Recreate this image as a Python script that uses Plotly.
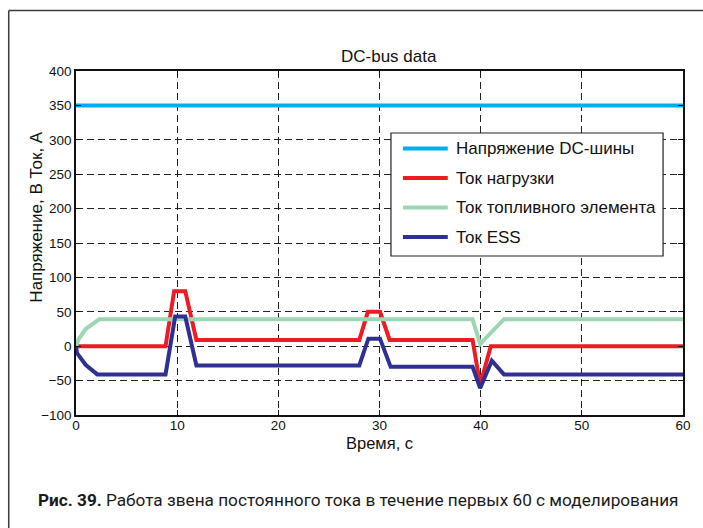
import plotly.graph_objects as go

# ---- data ----
series_names = ["Напряжение DC-шины", "Ток нагрузки", "Ток топливного элемента", "Ток ESS"]
series_colors = ["#00AEEF", "#ED1C24", "#9ED6B2", "#2E3192"]

t_bus = [0, 60]
v_bus = [350, 350]

t_load = [0, 8.85, 9.7, 10.8, 11.9, 28.0, 28.85, 30.05, 31.0, 39.2, 39.95, 41.0, 60]
i_load = [0, 0, 80, 80, 9, 9, 50, 50, 9, 9, -56, 0, 0]

t_fc = [0, 0.25, 0.95, 2.3, 39.2, 39.95, 41.1, 42.3, 60]
i_fc = [0, 10, 25, 39, 39, 3, 21, 39, 39]

t_ess = [0, 0.1, 0.95, 2.1, 8.85, 9.8, 10.8, 11.9, 28.0, 28.9, 30.05, 31.1, 39.2, 39.95, 41.1, 42.3, 60]
i_ess = [0, -10, -27, -41, -41, 43, 43, -28, -28, 11, 11, -30, -30, -61, -21, -41, -41]

x_ticks = [0, 10, 20, 30, 40, 50, 60]
y_ticks = [-100, -50, 0, 50, 100, 150, 200, 250, 300, 350, 400]
y_tick_text = ["\u2212100", "\u221250", "0", "50", "100", "150", "200", "250", "300", "350", "400"]

title = "DC-bus data"
x_title = "Время, с"
y_title = "Напряжение, В Ток, А"
caption_bold = "Рис. 39."
caption_rest = "Работа звена постоянного тока в течение первых 60 с моделирования"

# ---- layout geometry (pixels) ----
W, H = 703, 528
L, R, T, B = 76, 685, 71, 415
PW, PH = R - L, B - T


def px(x):
    return (x - L) / PW


def py(y):
    return (B - y) / PH


FONT = "Arial, Liberation Sans, sans-serif"

fig = go.Figure()
xs = [t_bus, t_load, t_fc, t_ess]
ys = [v_bus, i_load, i_fc, i_ess]
for name, color, x, y in zip(series_names, series_colors, xs, ys):
    fig.add_trace(go.Scatter(x=x, y=y, mode="lines", name=name,
                             line=dict(color=color, width=4), showlegend=False))

shapes = []
annotations = []

# page border (top and left edge)
shapes.append(dict(type="line", xref="paper", yref="paper", x0=px(8.5), x1=px(710),
                   y0=py(10.5), y1=py(10.5), line=dict(color="#3c3c3c", width=1.5)))
shapes.append(dict(type="line", xref="paper", yref="paper", x0=px(8.5), x1=px(8.5),
                   y0=py(10.5), y1=py(540), line=dict(color="#3c3c3c", width=1.5)))

# legend box
lx0, lx1, ly0, ly1 = 392, 665, 133, 256
shapes.append(dict(type="rect", xref="paper", yref="paper", x0=px(lx0), x1=px(lx1),
                   y0=py(ly0), y1=py(ly1), line=dict(color="#222222", width=1.2),
                   fillcolor="white", layer="above"))
item_y = [148.5, 178, 207.5, 237]
for name, color, yy in zip(series_names, series_colors, item_y):
    shapes.append(dict(type="line", xref="paper", yref="paper", x0=px(404), x1=px(449),
                       y0=py(yy), y1=py(yy), line=dict(color=color, width=4), layer="above"))
    annotations.append(dict(text=name, xref="paper", yref="paper", x=px(455), y=py(yy),
                            xanchor="left", yanchor="middle", showarrow=False,
                            font=dict(family=FONT, size=17, color="#111111")))

# titles
annotations.append(dict(text=title, xref="paper", yref="paper", x=px(390), y=py(57),
                        xanchor="center", yanchor="middle", showarrow=False,
                        font=dict(family=FONT, size=17, color="#111111")))
annotations.append(dict(text=x_title, xref="paper", yref="paper", x=px(381), y=py(443),
                        xanchor="center", yanchor="middle", showarrow=False,
                        font=dict(family=FONT, size=16.5, color="#111111")))
annotations.append(dict(text=y_title, xref="paper", yref="paper", x=px(36), y=py(217.5),
                        xanchor="center", yanchor="middle", showarrow=False, textangle=-90,
                        font=dict(family=FONT, size=17, color="#111111")))
# caption
annotations.append(dict(text="<b>" + caption_bold + "</b> " + caption_rest,
                        xref="paper", yref="paper", x=px(36), y=py(500),
                        xanchor="left", yanchor="middle", showarrow=False,
                        font=dict(family="Roboto, sans-serif", size=17.2, color="#1a1a1a")))

axis_common = dict(showline=True, linecolor="#111111", linewidth=1.5, mirror="ticks",
                   ticks="inside", ticklen=5, tickcolor="#111111",
                   showgrid=True, gridcolor="#222222", gridwidth=1, griddash="7px,4px",
                   zeroline=False, tickfont=dict(family=FONT, size=13.5, color="#111111"))

fig.update_layout(
    width=W, height=H,
    margin=dict(l=L, r=W - R, t=T, b=H - B),
    paper_bgcolor="white", plot_bgcolor="white",
    xaxis=dict(range=[0, 60], tickvals=x_ticks, ticklabelstandoff=-3, **axis_common),
    yaxis=dict(range=[-100, 400], tickvals=y_ticks, ticktext=y_tick_text, **axis_common),
    shapes=shapes, annotations=annotations,
)

fig.write_html("out.html")
